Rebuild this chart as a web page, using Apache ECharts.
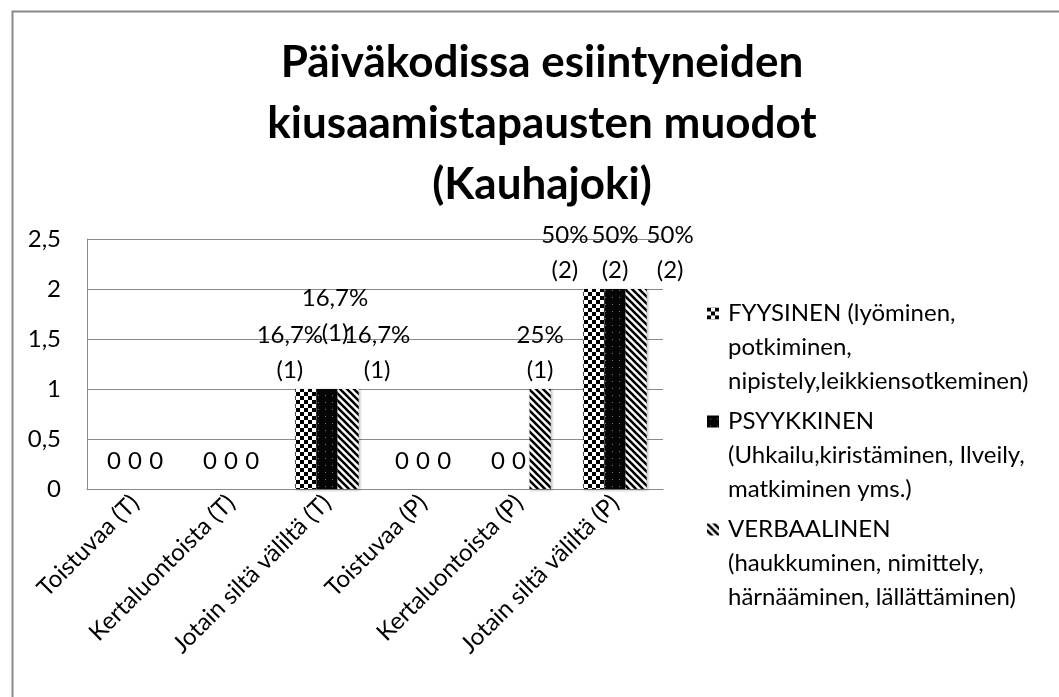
<!DOCTYPE html>
<html>
<head>
<meta charset="utf-8">
<script src="https://cdn.jsdelivr.net/npm/echarts@6/dist/echarts.min.js"></script>
<style>
html,body{margin:0;padding:0;background:#fff;}
#c{width:1059px;height:697px;}
</style>
</head>
<body>
<div id="c"></div>
<script>
const categories = ['Toistuvaa (T)', 'Kertaluontoista (T)', 'Jotain siltä väliltä (T)', 'Toistuvaa (P)', 'Kertaluontoista (P)', 'Jotain siltä väliltä (P)'];
const seriesNames = [
  'FYYSINEN (lyöminen,\npotkiminen,\nnipistely,leikkiensotkeminen)',
  'PSYYKKINEN\n(Uhkailu,kiristäminen, Ilveily,\nmatkiminen yms.)',
  'VERBAALINEN\n(haukkuminen, nimittely,\nhärnääminen, lällättäminen)'
];
const fyysinen = [0, 0, 1, 0, 0, 2];
const psyykkinen = [0, 0, 1, 0, 0, 2];
const verbaalinen = [0, 0, 1, 0, 1, 2];
const fyysinenLabels = ['0', '0', '16,7%\n(1)', '0', '0', '50%\n(2)'];
const psyykkinenLabels = ['0', '0', '16,7%\n(1)', '0', '0', '50%\n(2)'];
const verbaalinenLabels = ['0', '0', '16,7%\n(1)', '0', '25%\n(1)', '50%\n(2)'];
const yTicks = ['0', '0,5', '1', '1,5', '2', '2,5'];

// label nudges (style only)
const labelOffsets = [
  {2: [-16, 0], 5: [-29, 0]},
  {2: [8, -37]},
  {2: [29, 0], 5: [34, 0]}
];

function makePattern(kind) {
  const c = document.createElement('canvas');
  const ctx = c.getContext('2d');
  if (kind === 'checker') {
    c.width = 8; c.height = 8;
    ctx.fillStyle = '#fff'; ctx.fillRect(0, 0, 8, 8);
    ctx.fillStyle = '#000';
    ctx.fillRect(0, 0, 4, 4); ctx.fillRect(4, 4, 4, 4);
  } else if (kind === 'dots') {
    c.width = 7; c.height = 7;
    ctx.fillStyle = '#050505'; ctx.fillRect(0, 0, 7, 7);
    ctx.fillStyle = '#777'; ctx.fillRect(3, 3, 1, 1);
  } else {
    c.width = 7; c.height = 7;
    ctx.fillStyle = '#fff'; ctx.fillRect(0, 0, 7, 7);
    ctx.strokeStyle = '#000'; ctx.lineWidth = 2.6;
    for (let k = -2; k <= 2; k++) {
      ctx.beginPath();
      ctx.moveTo(k * 7 - 1, -1);
      ctx.lineTo(k * 7 + 8, 8);
      ctx.stroke();
    }
  }
  return {image: c, repeat: 'repeat'};
}

const patterns = [makePattern('checker'), makePattern('dots'), makePattern('stripes')];
const values = [fyysinen, psyykkinen, verbaalinen];
const labelTexts = [fyysinenLabels, psyykkinenLabels, verbaalinenLabels];

const FONT = 'Lato, "Open Sans", sans-serif';
const FS = 24;

const series = values.map((vals, si) => ({
  name: seriesNames[si],
  type: 'bar',
  barGap: '0%',
  barCategoryGap: '34%',
  itemStyle: {color: patterns[si], shadowColor: 'rgba(0,0,0,0.35)', shadowBlur: 3, shadowOffsetX: 1, shadowOffsetY: 1},
  data: vals.map((v, i) => {
    const d = {value: v, label: {}};
    if (labelOffsets[si][i]) d.label.offset = labelOffsets[si][i];
    d.label.distance = v === 0 ? 10 : 1;
    return d;
  }),
  label: {
    show: true,
    position: 'top',
    color: '#000',
    fontFamily: FONT,
    fontSize: FS,
    lineHeight: 35,
    formatter: p => labelTexts[si][p.dataIndex]
  }
}));

const chart = echarts.init(document.getElementById('c'), null, {renderer: 'canvas'});
chart.setOption({
  animation: false,
  backgroundColor: '#fff',
  textStyle: {fontFamily: FONT},
  title: {
    text: 'Päiväkodissa esiintyneiden\nkiusaamistapausten muodot\n(Kauhajoki)',
    left: 537,
    top: 27,
    textAlign: 'center',
    textStyle: {fontFamily: FONT, fontWeight: 'bold', fontSize: 44, lineHeight: 61, color: '#000'}
  },
  graphic: [{
    type: 'rect', left: 10, top: 9, shape: {width: 1070, height: 700},
    style: {fill: 'none', stroke: '#8a8a8a', lineWidth: 2}, silent: true, z: -1
  }],
  legend: {
    orient: 'vertical',
    left: 702,
    top: 291,
    itemWidth: 16,
    itemHeight: 79,
    itemGap: 6,
    icon: 'path://M0,0L12,0L12,12L0,12Z M16,79L16,79',
    data: seriesNames,
    textStyle: {fontFamily: FONT, fontSize: FS, lineHeight: 34, color: '#000'},
    selectedMode: false
  },
  grid: {left: 87, top: 239, right: 396, bottom: 208, containLabel: false},
  xAxis: {
    type: 'category',
    data: categories,
    axisLine: {lineStyle: {color: '#8a8a8a', width: 1}},
    axisTick: {show: false},
    axisLabel: {rotate: 45, color: '#000', fontFamily: FONT, fontSize: FS, margin: 10, interval: 0}
  },
  yAxis: {
    type: 'value',
    min: 0, max: 2.5, interval: 0.5,
    axisLine: {show: true, lineStyle: {color: '#8a8a8a'}},
    axisTick: {show: false},
    splitLine: {lineStyle: {color: '#8a8a8a'}},
    axisLabel: {color: '#000', fontFamily: FONT, fontSize: FS, margin: 26,
      formatter: v => yTicks[Math.round(v / 0.5)]}
  },
  series: series
});
</script>
</body>
</html>
